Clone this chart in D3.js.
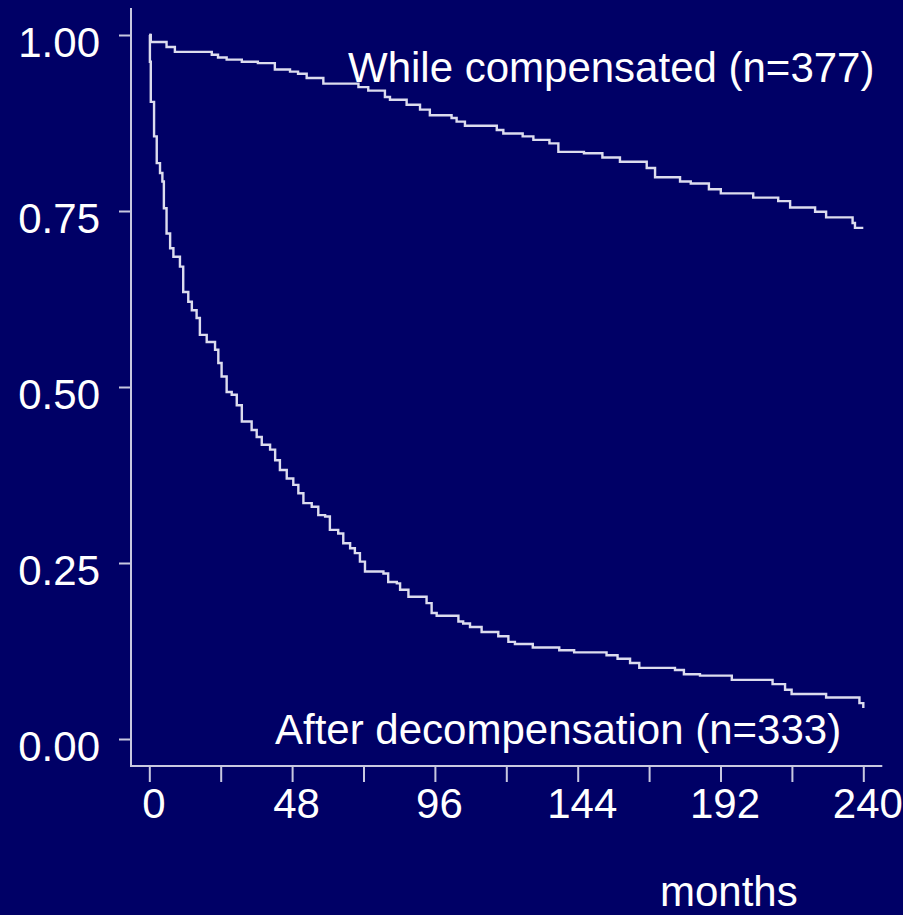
<!doctype html>
<html>
<head>
<script src="https://cdnjs.cloudflare.com/ajax/libs/d3/7.8.5/d3.min.js"></script>
<style>
body { margin: 0; background: #000066; }
text {
  font-family: "Liberation Sans", Arial, sans-serif;
  fill: #ffffff;
}
.tick text { font-size: 42px; }
.axis line, .axisline { stroke: #c8c8e0; stroke-width: 2px; }
.curve { fill: none; stroke: #dcdcee; stroke-width: 2.4px; }
.label { font-size: 42px; }
</style>
</head>
<body>
<svg width="903" height="915"></svg>
<script>
// Kaplan-Meier survival, months vs probability
var compTime = [0, 0.5, 5.8, 8.6, 21.0, 23.1, 26.0, 31.1, 36.5, 42.2, 47.3, 50.0, 52.9, 58.5,
  70.3, 73.6, 79.2, 80.9, 86.5, 91.0, 94.3, 101.6, 103.3, 106.1, 116.8, 119.0, 125.5, 129.1,
  134.5, 137.5, 146.1, 152.3, 158.2, 167.2, 170.0, 178.4, 182.0, 188.1, 192.1, 203.0, 211.4,
  215.4, 223.8, 227.5, 236.4, 237.2, 240]
var compSurv = [1.0, 0.990, 0.983, 0.976, 0.972, 0.968, 0.965, 0.962, 0.960, 0.951, 0.948, 0.945, 0.939, 0.931,
  0.926, 0.921, 0.912, 0.908, 0.901, 0.894, 0.886, 0.882, 0.877, 0.871, 0.865, 0.860, 0.856, 0.851,
  0.846, 0.834, 0.832, 0.826, 0.820, 0.811, 0.798, 0.792, 0.789, 0.781, 0.775, 0.769, 0.764,
  0.755, 0.749, 0.741, 0.733, 0.726, 0.726]

var decompTime = [0, 0.2, 0.5, 1.6, 2.5, 3.6, 4.4, 4.9, 5.8, 7.0, 8.1, 10.3, 11.4, 13.1, 14.3, 15.9,
  17.0, 19.3, 22.1, 23.2, 24.3, 26.0, 27.7, 29.4, 31.1, 34.4, 36.1, 37.8, 40.6, 42.3, 43.9, 46.2,
  48.4, 50.1, 51.8, 54.6, 56.8, 59.1, 60.7, 63.5, 65.2, 67.5, 69.1, 70.8, 72.5, 78.7, 80.3, 83.2,
  84.3, 87.1, 93.2, 94.9, 96.6, 103.9, 105.5, 107.8, 111.7, 117.3, 120.7, 122.9, 128.9, 137.8,
  142.8, 153.7, 157.4, 161.6, 164.7, 176.7, 179.7, 185.1, 195.8, 209.5, 213.7, 215.9, 227.5,
  238.7, 240]
var decompSurv = [1.0, 0.962, 0.905, 0.856, 0.818, 0.804, 0.792, 0.754, 0.718, 0.697, 0.685, 0.671, 0.635, 0.621, 0.609, 0.598,
  0.574, 0.564, 0.553, 0.534, 0.515, 0.493, 0.489, 0.474, 0.451, 0.439, 0.429, 0.418, 0.411, 0.396, 0.382, 0.370,
  0.361, 0.349, 0.335, 0.330, 0.318, 0.316, 0.297, 0.292, 0.278, 0.271, 0.264, 0.252, 0.238, 0.235, 0.223, 0.221,
  0.212, 0.202, 0.193, 0.179, 0.175, 0.167, 0.164, 0.159, 0.152, 0.146, 0.138, 0.135, 0.130, 0.126,
  0.123, 0.119, 0.114, 0.108, 0.101, 0.098, 0.092, 0.090, 0.084, 0.078, 0.070, 0.064, 0.059,
  0.051, 0.044]

var xTicks = [0, 24, 48, 72, 96, 120, 144, 168, 192, 216, 240]
var xLabels = [0, 48, 96, 144, 192, 240]
var yTicks = [0, 0.25, 0.5, 0.75, 1]
var seriesNames = ["While compensated (n=377)", "After decompensation (n=333)"]

var svg = d3.select("svg")
svg.append("rect").attr("width", 903).attr("height", 915).attr("fill", "#000066")

var x = d3.scaleLinear().domain([0, 240]).range([149.3, 863.3])
var y = d3.scaleLinear().domain([0, 1]).range([739, 35])

var axisY = 766, axisX = 131

// axis lines
svg.append("line").attr("class", "axisline")
  .attr("x1", axisX).attr("x2", axisX).attr("y1", y(1) - 27).attr("y2", axisY + 1)
svg.append("line").attr("class", "axisline")
  .attr("x1", axisX - 1).attr("x2", x(240) + 19).attr("y1", axisY).attr("y2", axisY)

var xAxis = svg.append("g").attr("class", "axis")
  .attr("transform", "translate(0," + axisY + ")")
  .call(d3.axisBottom(x).tickValues(xTicks).tickSize(16).tickPadding(6)
    .tickFormat(d => xLabels.indexOf(d) >= 0 ? d : ""))
xAxis.select(".domain").remove()
xAxis.selectAll("text").attr("dx", 4)

var yAxis = svg.append("g").attr("class", "axis")
  .attr("transform", "translate(" + axisX + ",0)")
  .call(d3.axisLeft(y).tickValues(yTicks).tickSize(12).tickPadding(19)
    .tickFormat(d3.format(".2f")))
yAxis.select(".domain").remove()
yAxis.selectAll("text").attr("dy", "0.52em")

var line = d3.line().curve(d3.curveStepAfter)
  .x(d => x(d[0])).y(d => y(d[1]))

svg.append("path").attr("class", "curve")
  .attr("d", line(d3.zip(compTime, compSurv)))
svg.append("path").attr("class", "curve")
  .attr("d", line(d3.zip(decompTime, decompSurv)))

svg.append("text").attr("class", "label")
  .attr("x", 348).attr("y", 82).text(seriesNames[0])
svg.append("text").attr("class", "label")
  .attr("x", 275).attr("y", 744).text(seriesNames[1])
svg.append("text").attr("class", "label")
  .attr("x", 660).attr("y", 906).text("months")
</script>
</body>
</html>
